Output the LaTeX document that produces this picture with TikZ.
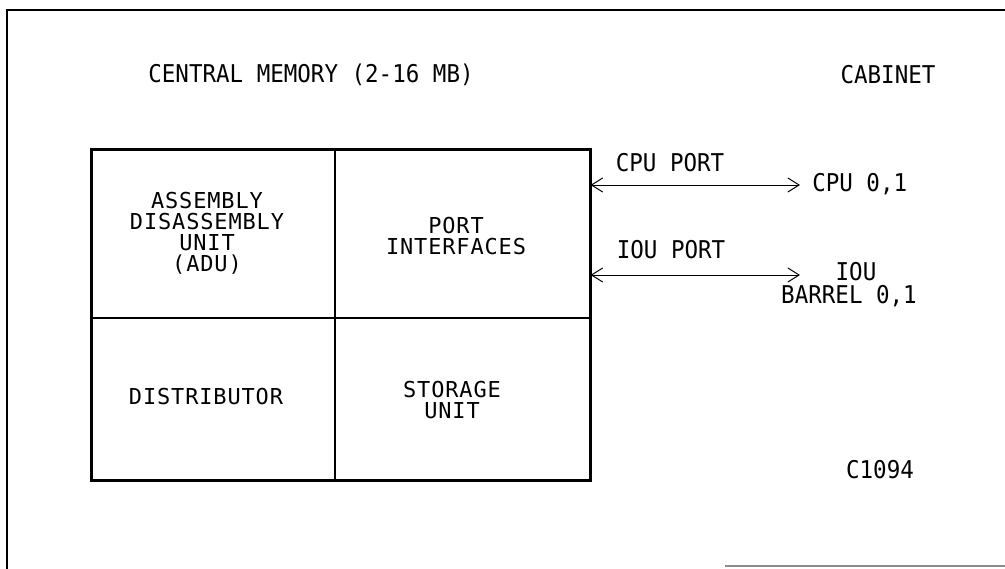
\documentclass[tikz,border=0pt]{standalone}
\usepackage{fontspec}
\setmonofont{DejaVu Sans Mono}
\newfontfamily\boxfont[LetterSpace=4]{DejaVu Sans Mono}
\usetikzlibrary{arrows.meta}
\tikzset{
  lbl/.style={font=\boxfont\fontsize{15.6}{14.9}\selectfont, inner sep=0pt, align=center},
  toplbl/.style={font=\ttfamily\fontsize{17.4}{17.4}\selectfont, inner sep=0pt, xscale=0.92},
  cell/.style={draw, line width=0.8pt, inner sep=0pt},
  portarrow/.style={line width=0.7pt, {Straight Barb[length=8pt,width=10pt]}-{Straight Barb[length=8pt,width=10pt]}},
  frame/.style={line width=1.3pt}
}
\begin{document}
\begin{tikzpicture}[x=0.025cm,y=-0.025cm]
\useasboundingbox (0,0) rectangle (1005,569);
% frame
\coordinate (ftl) at (7,10);
\coordinate (ftr) at (1005,10);
\coordinate (fbl) at (7,569);
\coordinate (bb1) at (725,566);
\coordinate (bb2) at (1005,566);
\draw[frame] (fbl) -- (ftl) -- (ftr);
\draw[line width=0.8pt, black!45] (bb1) -- (bb2);
% cells
\node[cell, minimum width=243*0.025cm, minimum height=168*0.025cm] (adu) at (213.5,234) {};
\node[cell, minimum width=255*0.025cm, minimum height=168*0.025cm] (pif) at (462.5,234) {};
\node[cell, minimum width=243*0.025cm, minimum height=162*0.025cm] (dist) at (213.5,399) {};
\node[cell, minimum width=255*0.025cm, minimum height=162*0.025cm] (stor) at (462.5,399) {};
\draw[line width=1.6pt] (adu.north west) rectangle (stor.south east);
% cell labels
\node[lbl] (adut) at (207,233) {ASSEMBLY\\DISASSEMBLY\\UNIT\\(ADU)};
\node[lbl] (pift) at (456,236) {PORT\\INTERFACES};
\node[lbl] (distt) at (206,397) {DISTRIBUTOR};
\node[lbl] (stort) at (452,400) {STORAGE\\UNIT};
% top labels
\node[toplbl] (title) at (311,75) {CENTRAL MEMORY (2-16 MB)};
\node[toplbl] (cab) at (888,75) {CABINET};
\node[toplbl] (cpuport) at (670,163) {CPU PORT};
\node[toplbl] (iouport) at (671,250) {IOU PORT};
\node[toplbl, anchor=west] (cpu) at (812,184) {CPU 0,1};
\node[toplbl] (iou) at (856,272) {IOU};
\node[toplbl] (barrel) at (849,296) {BARREL 0,1};
\node[toplbl] (code) at (880,470) {C1094};
% arrows
\coordinate (cpuend) at (800,185);
\coordinate (iouend) at (800,275);
\draw[portarrow] (pif.east |- cpuend) -- (cpuend);
\draw[portarrow] (pif.east |- iouend) -- (iouend);
\end{tikzpicture}
\end{document}
